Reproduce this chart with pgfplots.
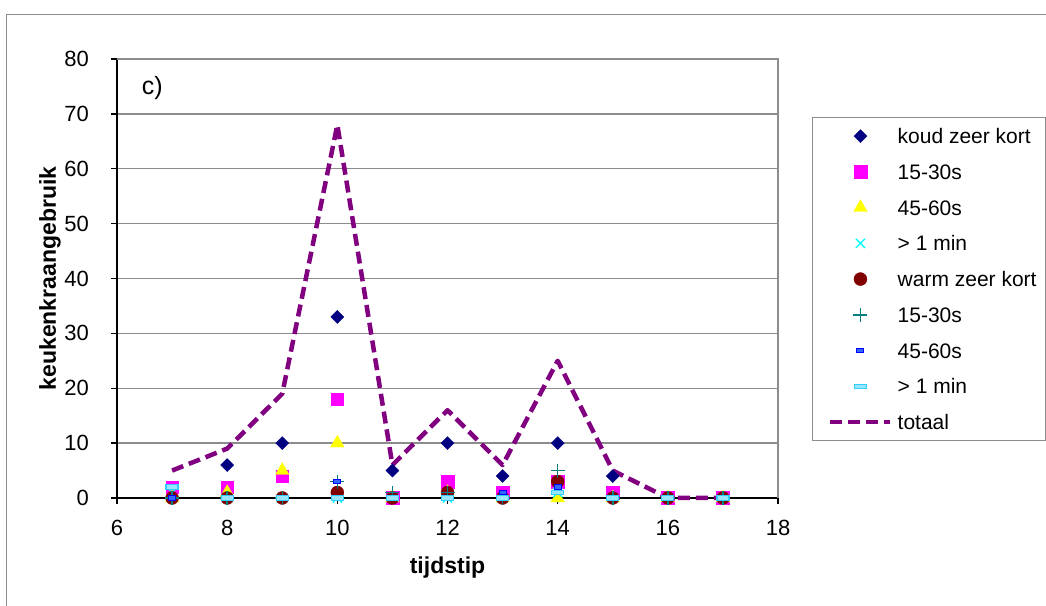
\documentclass[border=0pt]{standalone}
\usepackage{fontspec}
\setmainfont{Liberation Sans}
\usepackage{pgfplots}
\pgfplotsset{compat=1.18}

\definecolor{koudkort}{HTML}{000080}
\definecolor{kmag}{HTML}{FF00FF}
\definecolor{kyel}{HTML}{FFFF00}
\definecolor{kcyan}{HTML}{00FFFF}
\definecolor{warmkort}{HTML}{800000}
\definecolor{wteal}{HTML}{008080}
\definecolor{wblue}{HTML}{0000FF}
\definecolor{wblueIn}{HTML}{3366FF}
\definecolor{wlight}{HTML}{33CCFF}
\definecolor{wlightIn}{HTML}{99E6FF}
\definecolor{totaal}{HTML}{800080}
\definecolor{frame}{HTML}{8C8C8C}

% square diamond
\pgfdeclareplotmark{sqdiamond}{%
  \pgfpathmoveto{\pgfqpoint{0pt}{\pgfplotmarksize}}%
  \pgfpathlineto{\pgfqpoint{\pgfplotmarksize}{0pt}}%
  \pgfpathlineto{\pgfqpoint{0pt}{-\pgfplotmarksize}}%
  \pgfpathlineto{\pgfqpoint{-\pgfplotmarksize}{0pt}}%
  \pgfpathclose\pgfusepathqfillstroke}
% small filled dash
\pgfdeclareplotmark{shortdash}{%
  \pgfpathrectangle{\pgfpoint{-3.5bp}{-2.2bp}}{\pgfpoint{7bp}{4.4bp}}%
  \pgfusepathqfillstroke}
% wide filled dash
\pgfdeclareplotmark{widedash}{%
  \pgfpathrectangle{\pgfpoint{-6bp}{-2.2bp}}{\pgfpoint{12bp}{4.4bp}}%
  \pgfusepathqfillstroke}

\pgfplotstableread{
x  kzk k1530 k4560 kmin wzk w1530 w4560 wmin tot
7  0   2     0     1    0   0     0     2    5
8  6   2     1     0    0   0     0     0    9
9  10  4     5     0    0   0     0     0    19
10 33  18    10    0    1   3     3     0    68
11 5   0     0     0    0   1     0     0    6
12 10  3     1     0    1   1     0     0    16
13 4   1     0     0    0   0     1     0    6
14 10  3     0     1    3   5     2     1    25
15 4   1     0     0    0   0     0     0    5
16 0   0     0     0    0   0     0     0    0
17 0   0     0     0    0   0     0     0    0
}\gebruik

\newcommand\tickfont{\fontsize{22bp}{26bp}\selectfont}

\begin{document}
\begin{tikzpicture}[x=1bp,y=1bp,font=\fontsize{21bp}{25bp}\selectfont]
\useasboundingbox (0,0) rectangle (1046,606);
% chart frame and legend frame
\draw[frame,line width=1.3bp] (6.5,-20) -- (6.5,591.5) -- (1080,591.5);
\draw[frame,line width=1.3bp] (812.5,488.5) rectangle (1045.5,165.5);
\begin{axis}[
  at={(117bp,108bp)},anchor=south west,
  scale only axis,width=661bp,height=439bp,
  xmin=6,xmax=18,ymin=0,ymax=80,
  xtick={6,8,...,18},ytick={0,10,...,80},
  axis x line*=bottom,axis y line*=left,
  axis line style={black,line width=1.3bp,-},
  tick style={black,line width=1.3bp},
  tick align=outside,major tick length=6bp,
  ymajorgrids,grid style={frame,line width=1.3bp},
  /pgf/number format/assume math mode=true,
  tick label style={font=\tickfont},
  yticklabel style={font=\tickfont,inner sep=0pt,anchor=east,xshift=-22bp},
  xticklabel style={font=\tickfont,inner sep=0pt,anchor=north,yshift=-16bp},
  xlabel={tijdstip},ylabel={keukenkraangebruik},
  label style={font=\fontsize{23bp}{27bp}\selectfont\bfseries},
  xlabel style={at={(axis description cs:0.5,-0.1595)},anchor=center},
  ylabel style={at={(axis description cs:-0.1014,0.5)},anchor=center},
  clip=false,
  legend image code/.code={%
    \draw[mark repeat=2,mark phase=2,#1] plot coordinates {(0bp,0bp) (30bp,0bp) (60bp,0bp)};},
  legend cell align=left,
  legend style={at={(rel axis cs:1.07564,0.8656)},anchor=north west,
    draw=none,fill=none,inner sep=0pt,row sep=0pt,column sep=5bp,
    font=\fontsize{21bp}{25bp}\selectfont,
    nodes={inner xsep=0pt,inner ysep=10.375bp,text height=15bp,text depth=0bp}},
]
\draw[frame,line width=1.3bp] (rel axis cs:0,1) -- (rel axis cs:1,1) -- (rel axis cs:1,0);
\node[anchor=center,font=\fontsize{25bp}{30bp}\selectfont] at (rel axis cs:0.0535,0.934) {c)};

\addplot[only marks,mark=sqdiamond,mark size=6.5bp,draw=koudkort,fill=koudkort] table[x=x,y=kzk] {\gebruik};
\addlegendentry{koud zeer kort}
\addplot[only marks,mark=square*,mark size=6.3bp,draw=kmag,fill=kmag] table[x=x,y=k1530] {\gebruik};
\addlegendentry{15-30s}
\addplot[only marks,mark=triangle*,mark size=7.8bp,draw=kyel,fill=kyel] table[x=x,y=k4560] {\gebruik};
\addlegendentry{45-60s}
\addplot[only marks,mark=x,mark size=6.5bp,draw=kcyan,line width=1.3bp] table[x=x,y=kmin] {\gebruik};
\addlegendentry{> 1 min}
\addplot[only marks,mark=*,mark size=6.5bp,draw=warmkort,fill=warmkort] table[x=x,y=wzk] {\gebruik};
\addlegendentry{warm zeer kort}
\addplot[only marks,mark=+,mark size=7bp,draw=wteal,line width=1.5bp] table[x=x,y=w1530] {\gebruik};
\addlegendentry{15-30s}
\addplot[only marks,mark=shortdash,draw=wblue,fill=wblueIn,line width=1bp] table[x=x,y=w4560] {\gebruik};
\addlegendentry{45-60s}
\addplot[only marks,mark=widedash,draw=wlight,fill=wlightIn,line width=1.2bp] table[x=x,y=wmin] {\gebruik};
\addlegendentry{> 1 min}
\addplot[mark=none,draw=totaal,line width=4.5bp,line join=round,dash pattern=on 12bp off 6bp] table[x=x,y=tot] {\gebruik};
\addlegendentry{totaal}
\end{axis}
\end{tikzpicture}
\end{document}
